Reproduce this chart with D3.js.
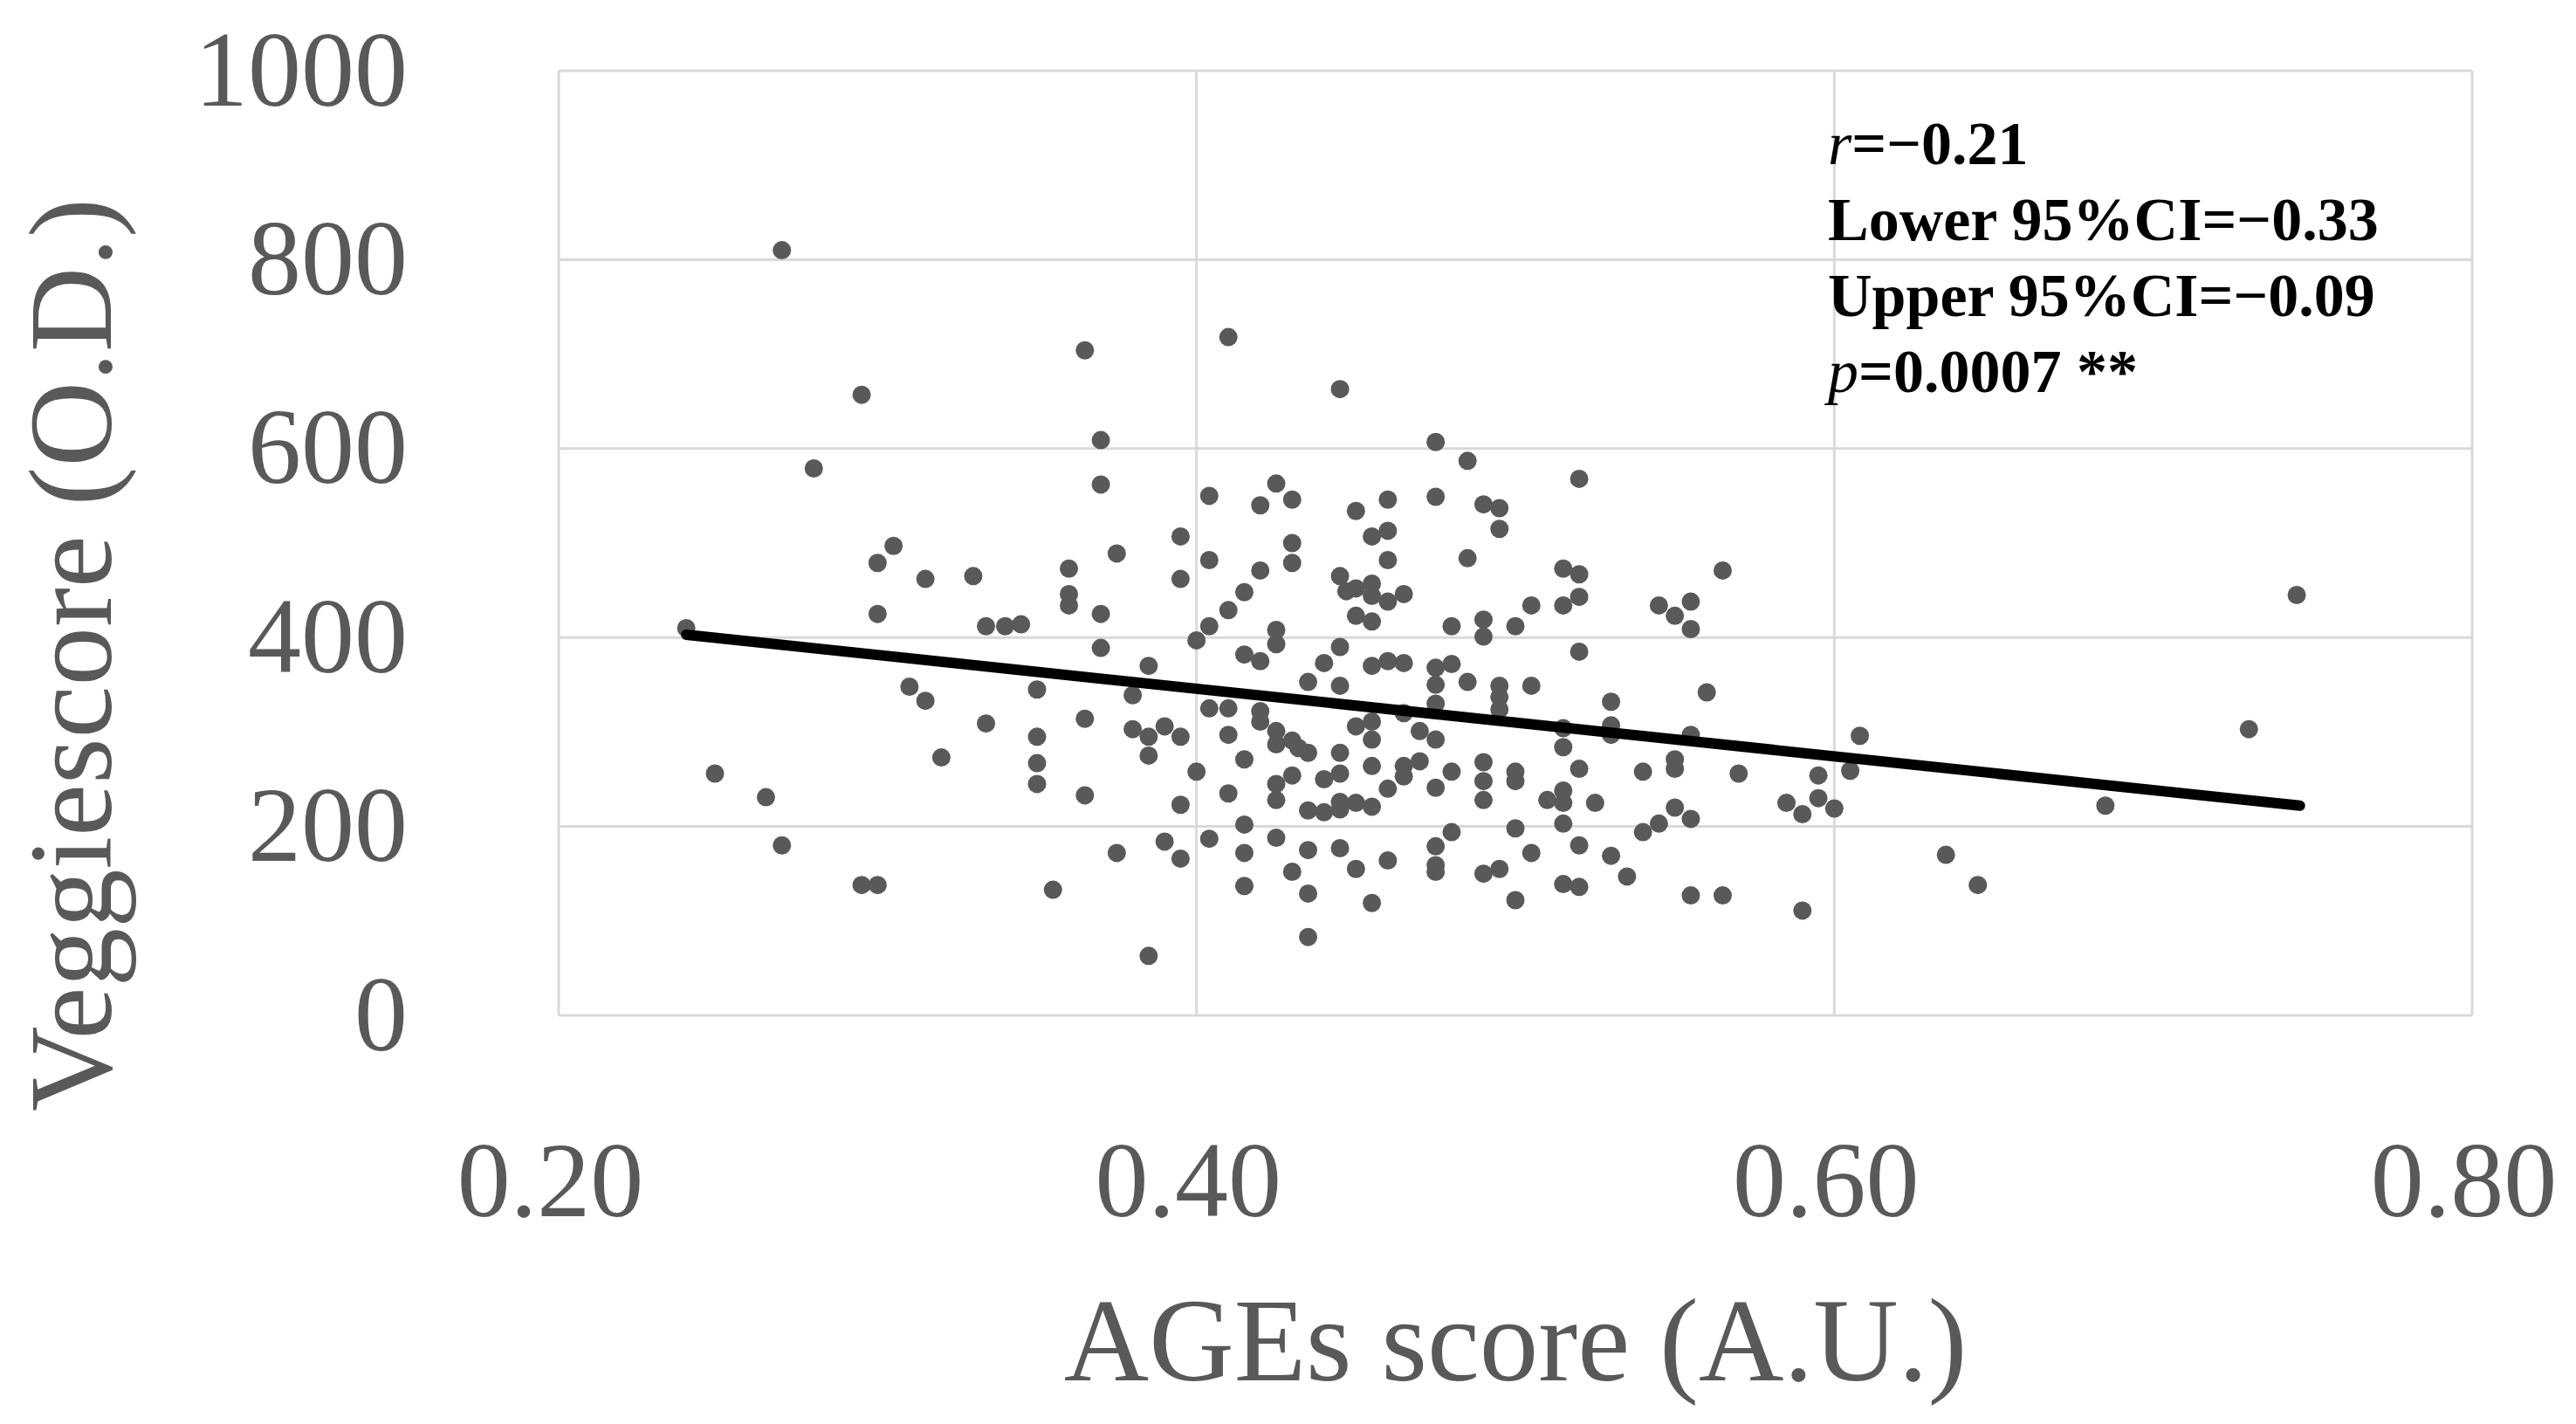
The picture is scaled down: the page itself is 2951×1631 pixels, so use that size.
<!DOCTYPE html>
<html>
<head>
<meta charset="utf-8">
<script src="https://cdn.jsdelivr.net/npm/d3@7"></script>
<style>
  body { margin: 0; background: #fff; }
  text { font-family: "Liberation Serif", "DejaVu Serif", serif; }
</style>
</head>
<body>
<div id="chart"></div>
<script>
// AGEs score (x) against Veggiescore (y)
var ages = [
  0.270,0.365,0.295,0.370,0.280,0.370,0.404,0.395,
  0.410,0.445,0.475,0.485,0.520,0.425,0.420,0.430,0.450,0.460,0.475,0.490,0.495,0.495,0.455,0.460,0.430,
  0.305,0.300,0.315,0.330,0.360,0.375,0.395,0.404,0.300,0.360,0.360,0.370,0.334,0.340,0.345,0.240,0.370,
  0.400,0.404,0.385,0.310,0.315,0.350,0.380,0.404,0.334,0.365,0.380,0.385,0.390,0.395,0.350,0.385,0.320,
  0.350,0.400,0.249,0.350,0.365,0.265,0.395,0.270,0.404,0.390,0.395,0.375,0.295,0.300,0.355,0.385,
  0.430,0.460,0.485,0.420,0.445,0.515,0.520,0.565,0.415,0.447,0.450,0.455,0.455,0.460,0.465,0.410,
  0.450,0.455,0.480,0.490,0.490,0.500,0.505,0.515,0.520,0.545,0.550,0.555,0.555,0.425,0.425,0.415,
  0.420,0.445,0.440,0.520,0.455,0.460,0.465,0.475,0.480,0.435,0.445,0.475,0.485,0.495,0.495,0.495,
  0.505,0.560,0.530,0.475,0.410,0.420,0.420,0.465,0.450,0.455,0.455,0.410,0.425,0.425,0.430,0.435,
  0.432,0.470,0.475,0.515,0.515,0.530,0.530,0.555,0.608,0.415,0.445,0.455,0.470,0.465,0.465,0.480,
  0.490,0.490,0.490,0.500,0.500,0.520,0.540,0.550,0.550,0.570,0.595,0.605,0.430,0.425,0.440,0.445,
  0.410,0.425,0.460,0.475,0.435,0.440,0.445,0.445,0.450,0.455,0.510,0.515,0.515,0.525,0.550,0.555,
  0.585,0.590,0.595,0.600,0.415,0.425,0.480,0.500,0.515,0.540,0.545,0.415,0.435,0.445,0.475,0.505,
  0.520,0.530,0.450,0.460,0.475,0.475,0.430,0.490,0.495,0.535,0.415,0.435,0.515,0.520,0.555,0.565,
  0.455,0.500,0.590,0.435,
  0.745,0.730,0.685,0.635,0.645
]
var veggie = [
  810,704,657,609,579,562,550,507,
  718,663,607,587,568,563,540,546,534,546,549,541,537,515,507,513,500,
  497,479,462,465,473,489,462,482,425,446,434,425,412,412,414,410,389,
  397,412,370,348,333,345,339,325,309,314,303,295,306,295,295,275,273,
  267,258,256,245,233,231,223,180,187,184,166,172,138,138,133,63,
  479,482,484,471,465,473,467,471,448,449,452,457,444,438,446,429,
  423,417,412,419,401,412,434,434,443,434,423,438,409,408,393,382,
  375,390,373,385,370,375,373,368,372,353,349,350,353,349,337,324,
  349,342,332,330,325,322,311,320,306,311,292,297,301,287,291,278,
  283,301,292,304,284,307,297,297,296,271,278,264,269,264,253,258,
  268,248,228,258,248,261,258,271,261,256,254,259,254,245,250,256,
  235,228,240,241,217,215,226,218,225,221,228,238,225,225,220,208,
  225,213,230,219,202,188,194,198,203,194,203,172,175,177,179,172,
  180,169,155,164,159,152,152,150,155,147,137,129,139,136,127,127,
  119,122,111,83,
  445,303,222,170,138
]
var trendX = [0.24, 0.746]
var trendY = [403, 222]

var xTicks = [0.2, 0.4, 0.6, 0.8]
var yTicks = [0, 200, 400, 600, 800, 1000]
var statLines = [
  {it: "r", rest: "=\u22120.21"},
  {it: "", rest: "Lower 95%CI=\u22120.33"},
  {it: "", rest: "Upper 95%CI=\u22120.09"},
  {it: "p", rest: "=0.0007 **"}
]

var w = 2951
var h = 1631
var plotLeft = 640, plotRight = 2832, plotTop = 81, plotBottom = 1163
var gridColor = "#d9d9d9"
var textGrey = "#595959"

var svg = d3.select("#chart").append("svg").attr("width", w).attr("height", h)

var x = d3.scaleLinear().domain([0.2, 0.8]).range([plotLeft, plotRight])
var y = d3.scaleLinear().domain([0, 1000]).range([plotBottom, plotTop])

// grid lines and plot frame
svg.selectAll(".hgrid")
  .data(yTicks)
  .enter()
  .append("line")
  .attr("x1", plotLeft).attr("x2", plotRight)
  .attr("y1", function(d){return y(d)})
  .attr("y2", function(d){return y(d)})
  .attr("stroke", gridColor)
  .attr("stroke-width", 3)

svg.selectAll(".vgrid")
  .data(xTicks)
  .enter()
  .append("line")
  .attr("y1", plotTop).attr("y2", plotBottom)
  .attr("x1", function(d){return x(d)})
  .attr("x2", function(d){return x(d)})
  .attr("stroke", gridColor)
  .attr("stroke-width", 3)

// axes (labels only)
var xAxis = d3.axisBottom(x).tickValues(xTicks).tickFormat(d3.format(".2f")).tickSize(0).tickPadding(143)
var gx = svg.append("g").attr("transform", "translate(0," + plotBottom + ")").call(xAxis)
gx.select(".domain").remove()
gx.selectAll("text")
  .attr("font-family", "Liberation Serif")
  .attr("font-size", 122)
  .attr("fill", textGrey)
  .attr("dx", -10)

var yAxis = d3.axisLeft(y).tickValues(yTicks).tickFormat(d3.format("d")).tickSize(0).tickPadding(173)
var gy = svg.append("g").attr("transform", "translate(" + plotLeft + ",0)").call(yAxis)
gy.select(".domain").remove()
gy.selectAll("text")
  .attr("font-family", "Liberation Serif")
  .attr("font-size", 122)
  .attr("fill", textGrey)

// axis titles
svg.append("text")
  .attr("x", (plotLeft + plotRight) / 2)
  .attr("y", 1581)
  .attr("text-anchor", "middle")
  .attr("font-size", 135)
  .attr("fill", textGrey)
  .text("AGEs score (A.U.)")

svg.append("text")
  .attr("transform", "translate(127,750) rotate(-90)")
  .attr("text-anchor", "middle")
  .attr("font-size", 135)
  .attr("fill", textGrey)
  .text("Veggiescore (O.D.)")

// points
var points = ages.map(function(a, i){ return {x: a, y: veggie[i]} })
svg.selectAll(".point")
  .data(points)
  .enter()
  .append("circle")
  .attr("class", "point")
  .attr("cx", function(d){return x(d.x)})
  .attr("cy", function(d){return y(d.y)})
  .attr("r", 10.5)
  .attr("fill", "#595959")

// trend line
svg.append("line")
  .attr("x1", x(trendX[0])).attr("y1", y(trendY[0]))
  .attr("x2", x(trendX[1])).attr("y2", y(trendY[1]))
  .attr("stroke", "#000")
  .attr("stroke-width", 12)
  .attr("stroke-linecap", "round")

// stats box
var stats = svg.append("g")
statLines.forEach(function(s, i){
  var t = stats.append("text")
    .attr("x", 2094)
    .attr("y", 188 + i * 87)
    .attr("font-size", 70)
    .attr("font-weight", "bold")
    .attr("fill", "#000")
  if(s.it){
    t.append("tspan").attr("font-style", "italic").attr("font-weight", "normal").text(s.it)
  }
  t.append("tspan").text(s.rest)
})
</script>
</body>
</html>
